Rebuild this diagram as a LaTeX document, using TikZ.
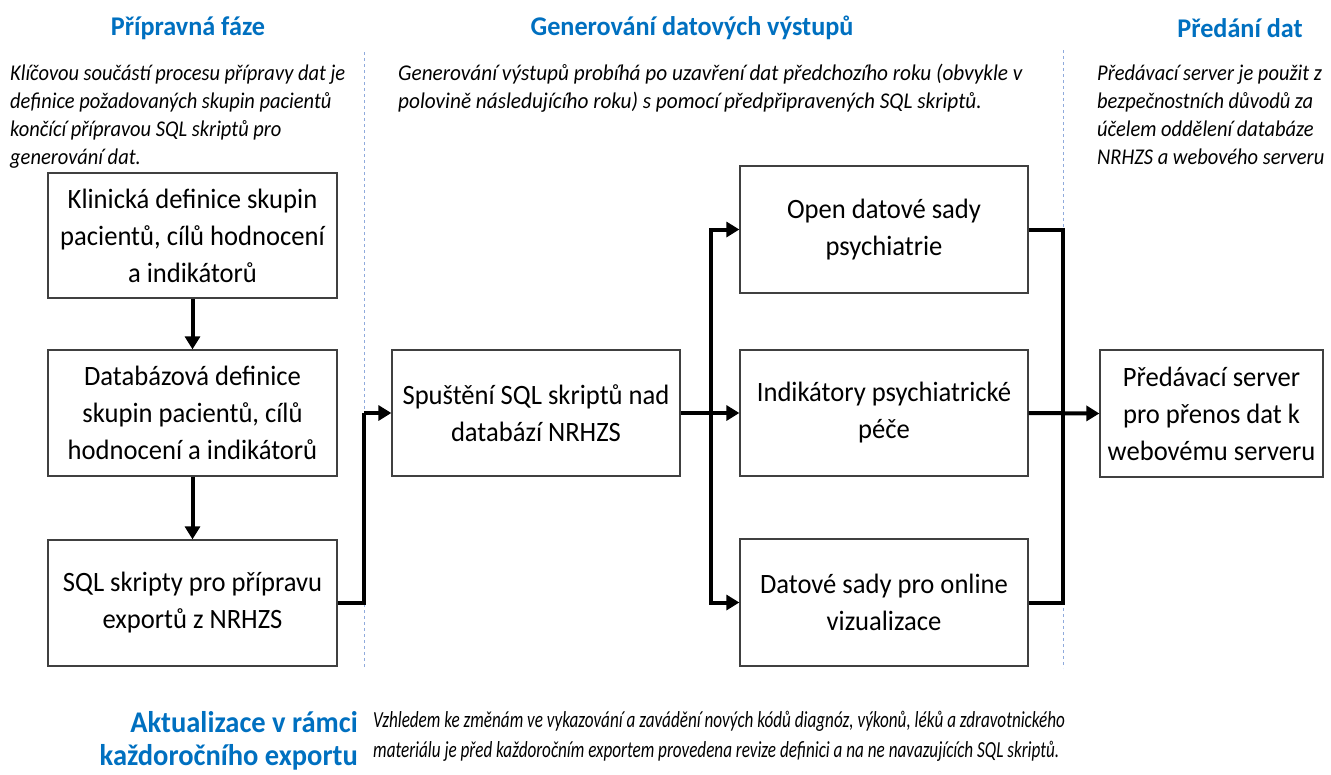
\documentclass[tikz,border=0pt]{standalone}
\usepackage{fontspec}
\setmainfont{Carlito}
\newfontfamily\boxfont[FakeStretch=0.95]{Carlito}
\newfontfamily\descfont[FakeStretch=0.945]{Carlito}
\newfontfamily\sidefont[FakeStretch=0.91]{Carlito}
\newfontfamily\headfont[FakeStretch=0.97]{Carlito}
\newfontfamily\bottomheadfont[FakeStretch=0.95]{Carlito}
\newfontfamily\bottomfont[FakeStretch=0.745]{Carlito}
\usetikzlibrary{arrows.meta}
\definecolor{headblue}{RGB}{0,112,192}
\definecolor{dashblue}{RGB}{143,170,220}
\definecolor{boxline}{RGB}{64,64,64}
\tikzset{
  stepbox/.style={draw=boxline, line width=1.3pt, rectangle, inner sep=0pt,
    minimum width=289pt, minimum height=126pt, align=center,
    font=\boxfont\fontsize{28}{37}\selectfont},
  head/.style={text=headblue, inner sep=0pt, font=\headfont\bfseries\fontsize{27}{33}\selectfont},
  desc/.style={inner sep=0pt, align=left, anchor=base west,
    font=\descfont\itshape\fontsize{22.5}{28}\selectfont},
  sidedesc/.style={desc, font=\sidefont\itshape\fontsize{22.5}{28}\selectfont},
  conn/.style={line width=4pt, -{Triangle[length=13pt,width=15pt]}},
  plain/.style={line width=4pt},
  sep/.style={draw=dashblue, line width=0.8pt, dash pattern=on 3pt off 3pt}
}
\begin{document}
\begin{tikzpicture}[x=1pt,y=-1pt]
\useasboundingbox (0,0) rectangle (1331,774);
% separators
\draw[sep] (364,52) -- (364,668);
\draw[sep] (1063,50) -- (1063,668);
% headings
\node[head] (h1) at (188,28) {Přípravná fáze};
\node[head] (h2) at (692,28) {Generování datových výstupů};
\node[head] (h3) at (1240,28) {Předání dat};
% descriptions (anchored at the baseline of the last line)
\node[sidedesc] (d1) at (10,164) {Klíčovou součástí procesu přípravy dat je\\definice požadovaných skupin pacientů\\končící přípravou SQL skriptů pro\\generování dat.};
\node[desc] (d2) at (398,108) {Generování výstupů probíhá po uzavření dat předchozího roku (obvykle v\\polovině následujícího roku) s pomocí předpřipravených SQL skriptů.};
\node[sidedesc] (d3) at (1097,164) {Předávací server je použit z\\bezpečnostních důvodů za\\účelem oddělení databáze\\NRHZS a webového serveru};
% boxes
\node[stepbox, minimum height=125pt] (b1) at (192.5,235.5) {Klinická definice skupin\\pacientů, cílů hodnocení\\a indikátorů};
\node[stepbox] (b2) at (192.5,413) {Databázová definice\\skupin pacientů, cílů\\hodnocení a indikátorů};
\node[stepbox] (b3) at (192.5,603) {SQL skripty pro přípravu\\exportů z NRHZS};
\node[stepbox, minimum width=288pt] (b4) at (536,413) {Spuštění SQL skriptů nad\\databází NRHZS};
\node[stepbox, minimum width=288pt, minimum height=127pt] (b5) at (884,229.5) {Open datové sady\\psychiatrie};
\node[stepbox, minimum width=288pt] (b6) at (884,413) {Indikátory psychiatrické\\péče};
\node[stepbox, minimum width=288pt, minimum height=127pt] (b7) at (884,602.5) {Datové sady pro online\\vizualizace};
\node[stepbox, minimum width=223pt, minimum height=127pt] (b8) at (1211.5,413.5) {Předávací server\\pro přenos dat k\\webovému serveru};
% junction coordinates
\coordinate (j1) at (364,413);
\coordinate (j2) at (711,413);
\coordinate (j3) at (1063,413);
% connectors
\draw[conn] (b1.south) -- (b2.north);
\draw[conn] (b2.south) -- (b3.north);
\draw[plain] (b3.east) -| (j1);
\draw[conn] (j1) -- (b4.west);
\draw[conn] (b4.east) -- (b6.west);
\draw[conn] (j2) |- (b5.west);
\draw[conn] (j2) |- (b7.west);
\draw[plain] (b5.east) -| (j3);
\draw[plain] (b7.east) -| (j3);
\draw[conn] (b6.east) -- (b8.west);
% bottom
\node[head, align=right, anchor=base east, font=\bottomheadfont\bfseries\fontsize{30}{33}\selectfont] (h4) at (358,765) {Aktualizace v rámci\\každoročního exportu};
\node[desc, font=\bottomfont\itshape\fontsize{23}{30}\selectfont] (d4) at (373,757) {Vzhledem ke změnám ve vykazování a zavádění nových kódů diagnóz, výkonů, léků a zdravotnického\\materiálu je před každoročním exportem provedena revize definici a na ne navazujících SQL skriptů.};
\end{tikzpicture}
\end{document}
